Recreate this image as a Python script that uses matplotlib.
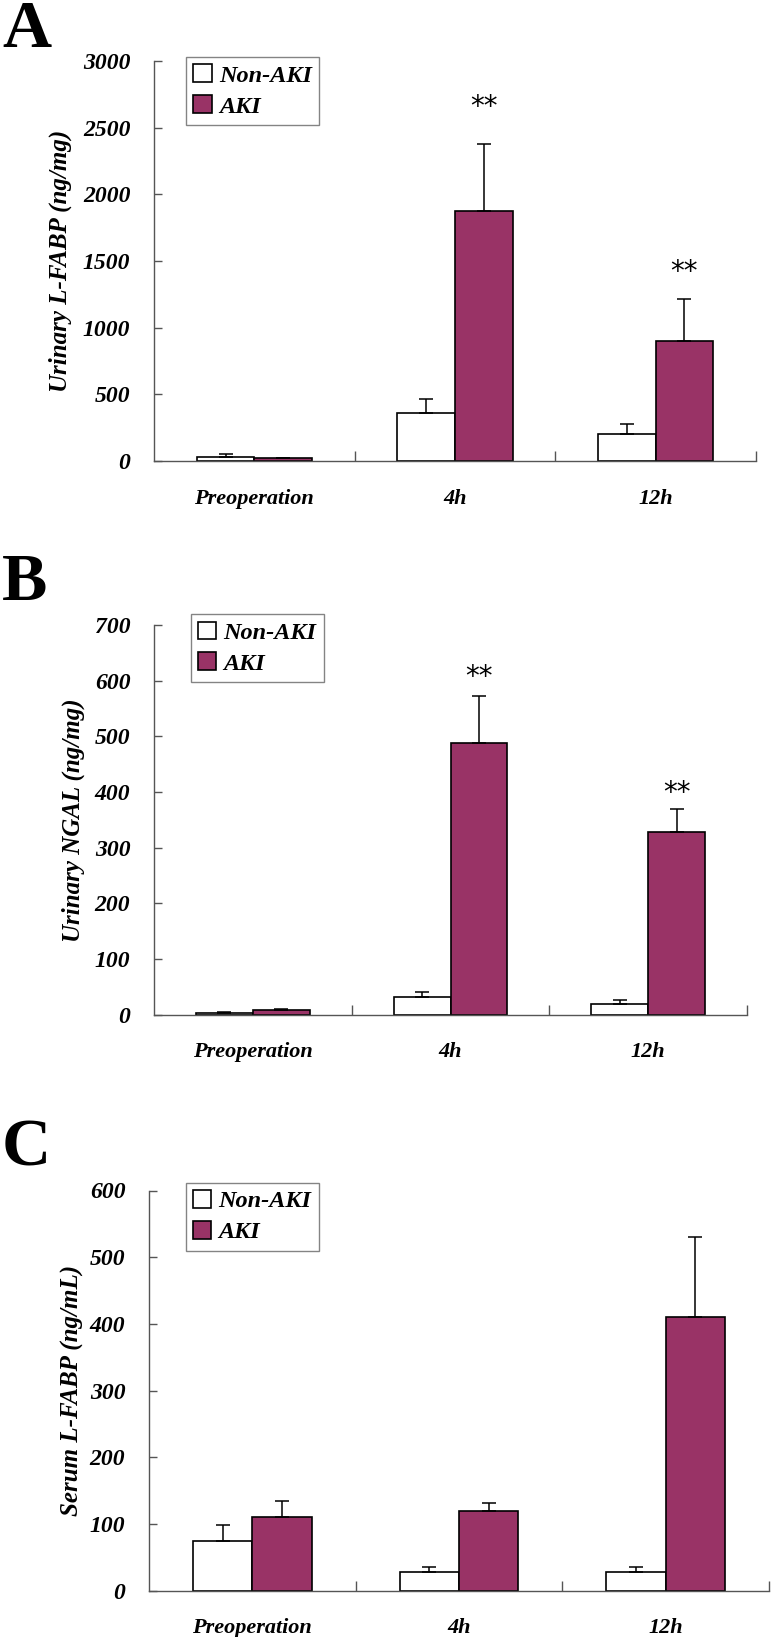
import matplotlib
matplotlib.use("Agg")
import matplotlib.pyplot as plt
import numpy as np

# categories and group names
CATEGORIES = ["Preoperation", "4h", "12h"]
GROUPS = ["Non-AKI", "AKI"]

# panel A: urinary L-FABP (ng/mg)
a_non = [30, 362, 205]
a_non_err = [25, 103, 70]
a_aki = [20, 1877, 902]
a_aki_err = [4, 500, 315]
a_stars = [None, 2655, 1420]

# panel B: urinary NGAL (ng/mg)
b_non = [3, 31, 20]
b_non_err = [2, 9, 7]
b_aki = [9, 488, 329]
b_aki_err = [2, 84, 40]
b_stars = [None, 607, 399]

# panel C: serum L-FABP (ng/mL)
c_non = [74, 28, 28]
c_non_err = [25, 8, 8]
c_aki = [111, 119, 411]
c_aki_err = [24, 12, 120]
c_stars = [None, None, None]

AKI_COLOR = "#993366"
AXIS_COLOR = "#555555"
SERIF = "Liberation Serif"

W, H = 771, 1637
fig = plt.figure(figsize=(W / 100, H / 100), dpi=100)


def px_axes(left, right, top, bottom):
    return fig.add_axes([left / W, 1 - bottom / H, (right - left) / W, (bottom - top) / H])


def draw_panel(ax, non, non_err, aki, aki_err, stars, ymax, ystep, ylabel,
               label_x, legend_xy, letter, letter_y):
    x = np.arange(len(CATEGORIES))
    w = 0.287
    ax.bar(x - w / 2, non, w, color="white", edgecolor="black", linewidth=1.2,
           label=GROUPS[0], zorder=2)
    ax.bar(x + w / 2, aki, w, color=AKI_COLOR, edgecolor="black", linewidth=1.2,
           label=GROUPS[1], zorder=2)
    ax.errorbar(x - w / 2, non, yerr=[np.zeros(3), non_err], fmt="none",
                ecolor="black", elinewidth=1.1, capsize=5, capthick=1.1, zorder=3)
    ax.errorbar(x + w / 2, aki, yerr=[np.zeros(3), aki_err], fmt="none",
                ecolor="black", elinewidth=1.1, capsize=5, capthick=1.1, zorder=3)
    for i, s in enumerate(stars):
        if s is not None:
            ax.text(x[i] + w / 2, s, "**", ha="center", va="center",
                    fontsize=20, fontfamily="DejaVu Sans", color="black")

    ax.set_xlim(-0.5, 2.5)
    ax.set_ylim(0, ymax)
    ax.set_yticks(np.arange(0, ymax + 1, ystep))
    ax.set_xticks(x)
    ax.set_xticklabels(CATEGORIES)
    ax.set_xticks([0.5, 1.5, 2.5], minor=True)

    for side in ["top", "right"]:
        ax.spines[side].set_visible(False)
    for side in ["left", "bottom"]:
        ax.spines[side].set_color(AXIS_COLOR)
        ax.spines[side].set_linewidth(1.0)

    ax.tick_params(axis="y", direction="in", length=6, width=1, color=AXIS_COLOR, pad=17)
    ax.tick_params(axis="x", which="major", length=0, pad=20)
    ax.tick_params(axis="x", which="minor", direction="in", length=7, width=1,
                   color=AXIS_COLOR)
    for t in ax.get_yticklabels():
        t.set_fontfamily(SERIF)
        t.set_fontweight("bold")
        t.set_fontstyle("italic")
        t.set_fontsize(17)
    for t in ax.get_xticklabels():
        t.set_fontfamily(SERIF)
        t.set_fontweight("bold")
        t.set_fontstyle("italic")
        t.set_fontsize(16)

    ax.set_ylabel(ylabel, fontfamily=SERIF, fontweight="bold", fontstyle="italic",
                  fontsize=18)
    ax.yaxis.set_label_coords(label_x, 0.5)

    leg = ax.legend(loc="upper left", bbox_to_anchor=(legend_xy[0] / W, 1 - legend_xy[1] / H),
                    bbox_transform=fig.transFigure, borderaxespad=0, fancybox=False,
                    handlelength=0.75, handleheight=0.75, handletextpad=0.3,
                    labelspacing=0.35, borderpad=0.3,
                    prop={"family": SERIF, "weight": "bold", "style": "italic", "size": 17.5})
    leg.get_frame().set_edgecolor("#666666")
    leg.get_frame().set_linewidth(1.0)

    fig.text(2 / W, 1 - letter_y / H, letter, ha="left", va="baseline", fontfamily=SERIF,
             fontweight="bold", fontsize=49)


ax_a = px_axes(154, 756, 61, 461)
draw_panel(ax_a, a_non, a_non_err, a_aki, a_aki_err, a_stars, 3000, 500,
           "Urinary L-FABP (ng/mg)", (72 - 154) / 602, (186, 57), "A", 47)

ax_b = px_axes(154, 747, 625, 1014.7)
draw_panel(ax_b, b_non, b_non_err, b_aki, b_aki_err, b_stars, 700, 100,
           "Urinary NGAL (ng/mg)", (85 - 154) / 593, (190.7, 614.3), "B", 600)

ax_c = px_axes(149, 769, 1190.5, 1590.7)
draw_panel(ax_c, c_non, c_non_err, c_aki, c_aki_err, c_stars, 600, 100,
           "Serum L-FABP (ng/mL)", (84 - 149) / 620, (185.7, 1182.7), "C", 1165)

fig.savefig("out.png", dpi=100)
